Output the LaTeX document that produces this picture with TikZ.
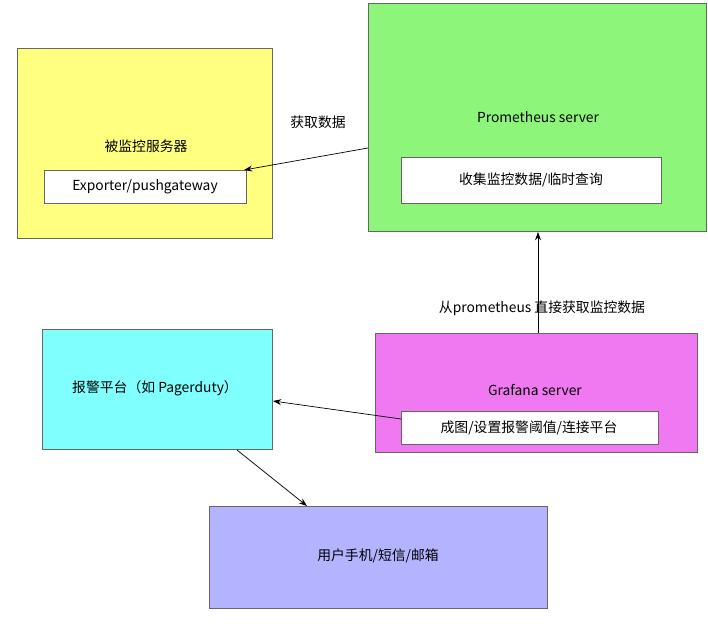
\documentclass[tikz,border=0pt]{standalone}
\usepackage{fontspec}
\setmainfont{Liberation Sans}
\newfontfamily\cjk{Noto Sans CJK SC}
\usetikzlibrary{arrows.meta}
\begin{document}
\begin{tikzpicture}[x=0.03cm,y=-0.03cm,
  box/.style={draw=black!60,line width=0.5pt,inner sep=0pt},
  lbl/.style={font=\cjk\fontsize{11.8}{14}\selectfont},
  arr/.style={-{Stealth[length=7pt,width=5pt]},line width=0.6pt}]
\useasboundingbox[fill=white] (0,0) rectangle (708,628);
\draw[box,fill={rgb,255:red,255;green,255;blue,128}] (17,48) rectangle (272,238);
\draw[box,fill={rgb,255:red,140;green,245;blue,122}] (368,3) rectangle (706,231);
\draw[box,fill=white] (401,157) rectangle (661,203);
\draw[box,fill=white] (44,170) rectangle (246,203);
\draw[box,fill={rgb,255:red,128;green,255;blue,255}] (42,329) rectangle (272,449);
\draw[box,fill={rgb,255:red,240;green,120;blue,240}] (375,333) rectangle (697,452);
\draw[box,fill=white] (401,411) rectangle (658,444);
\draw[box,fill={rgb,255:red,179;green,179;blue,255}] (209,506) rectangle (547,608);

\node[lbl] (prom) at (538,117) {Prometheus server};
\node[lbl] (collect) at (531,180) {收集监控数据/临时查询};
\node[lbl] (mon) at (146,146) {被监控服务器};
\node[lbl] (exp) at (145,187) {Exporter/pushgateway};
\node[lbl] (alarm) at (155,388) {报警平台（如 Pagerduty）};
\node[lbl] (graf) at (535,390) {Grafana server};
\node[lbl] (graph) at (529,428) {成图/设置报警阈值/连接平台};
\node[lbl] (user) at (378,556) {用户手机/短信/邮箱};
\node[lbl] (l1) at (318,122) {获取数据};
\node[lbl] (l2) at (542,308) {从prometheus 直接获取监控数据};

\coordinate (gl) at (368,148);
\coordinate (et) at (244,170);
\coordinate (gb) at (538,333);
\coordinate (pt) at (538,232);
\coordinate (wl) at (401,419);
\coordinate (cr) at (273,401);
\coordinate (cb) at (237,450);
\coordinate (ut) at (307,506);
\draw[arr] (gl) -- (et);
\draw[arr] (gb) -- (pt);
\draw[arr] (wl) -- (cr);
\draw[arr] (cb) -- (ut);
\end{tikzpicture}
\end{document}
